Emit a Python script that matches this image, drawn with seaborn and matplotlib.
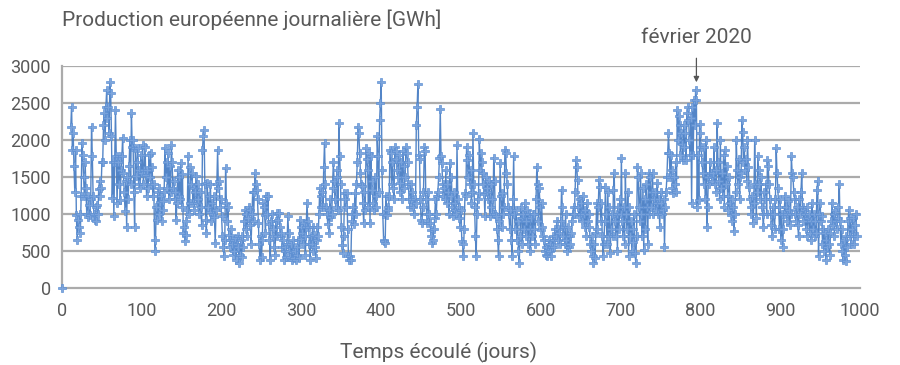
import numpy as np
import pandas as pd
import matplotlib
matplotlib.use("Agg")
import matplotlib.pyplot as plt
import seaborn as sns

# ---- data (GWh per day) ----
first_day = [0]
first_value = [0]
start_day = 11  # first day of continuous series

prod_1 = [2180, 2450, 1870, 2090, 1650, 1300, 1870, 990, 650, 920,
          830, 1000, 740, 1240, 1960, 1800, 1500, 1240, 1700, 1350,
          1000, 960, 1240, 1120, 980, 1200, 2180, 1780, 1240, 1000,
          920, 900, 1100, 1120, 1000, 1340, 1450, 1250, 1350, 1700,
          1700, 2200, 2360, 2000, 2450, 2680, 2300, 2450, 2100, 2780,
          2630, 2050, 1210, 1700, 970, 1700, 2410, 1780, 1150, 1700,
          1400, 1780, 1190, 1600, 1780, 2030, 1550, 1300, 1040, 1450,
          830, 1500, 1200, 1650, 2000, 1400, 2360, 1900, 2000, 1300,
          830, 1890, 1510, 1700, 1890, 1400, 1600, 1350, 1800, 1550]
prod_2 = [1930, 1400, 1600, 1910, 1530, 1250, 1600, 1350, 1800, 1500,
          1820, 1400, 1640, 1240, 1400, 650, 500, 1100, 920, 1300,
          1000, 1350, 1160, 1240, 900, 1180, 1050, 1300, 1890, 1500,
          1700, 1350, 1820, 1200, 1650, 1300, 1930, 1700, 1350, 1450,
          1200, 1300, 920, 1150, 1600, 1250, 1500, 1200, 1690, 1100,
          1540, 750, 830, 630, 720, 900, 1050, 1780, 1000, 1150,
          1640, 1400, 1550, 1150, 1350, 1050, 1300, 1520, 1150, 1400,
          1200, 1000, 1300, 1100, 850, 1870, 2050, 2140, 1400, 920,
          750, 1420, 1100, 1250, 1030, 1400, 900, 1150, 1000, 1250,
          960, 610, 1050, 1400, 1870, 1350, 1450, 1100, 1200, 970]
prod_3 = [700, 560, 430, 650, 1620, 1150, 900, 1100, 720, 650,
          560, 800, 600, 450, 650, 500, 680, 380, 600, 700,
          560, 340, 450, 650, 420, 700, 550, 900, 1050, 800,
          1000, 700, 950, 1100, 1060, 850, 600, 1000, 1300, 900,
          1300, 1550, 1400, 1330, 1200, 880, 600, 380, 700, 420,
          650, 1150, 1100, 980, 750, 1240, 1000, 1240, 860, 650,
          380, 900, 1000, 800, 700, 550, 450, 900, 700, 1010,
          920, 1010, 830, 700, 750, 560, 650, 380, 500, 560,
          420, 600, 970, 750, 500, 420, 600, 380, 480, 650,
          400, 500, 380, 560, 450, 650, 400, 920, 830, 660]
prod_4 = [750, 600, 880, 700, 450, 830, 1150, 900, 830, 600,
          380, 700, 600, 830, 500, 720, 560, 400, 650, 830,
          700, 1000, 1350, 1100, 1240, 1300, 1100, 1640, 1960, 1400,
          1100, 1000, 870, 1050, 740, 1200, 960, 1000, 1350, 1700,
          1450, 1200, 1100, 1500, 1600, 1050, 2230, 1780, 1400, 830,
          580, 470, 700, 1280, 1200, 1100, 1280, 800, 430, 380,
          430, 380, 900, 1000, 1100, 870, 1280, 1000, 1400, 1700,
          2180, 2090, 1820, 1550, 1400, 1380, 1150, 880, 1300, 1050,
          1890, 1740, 1600, 1100, 1820, 880, 1780, 1450, 1320, 1150,
          1050, 1500, 1250, 1100, 2050, 1780, 1300, 2270, 2500, 2790]
prod_5 = [1600, 1000, 650, 630, 610, 1250, 980, 1100, 1050, 1250,
          1870, 1820, 1400, 1700, 1350, 1200, 1900, 1850, 1750, 1600,
          1500, 1800, 1300, 1420, 1700, 1200, 1850, 1650, 1350, 1500,
          1900, 1830, 1700, 1400, 1200, 1100, 1400, 1200, 1300, 1100,
          1000, 1200, 1150, 2200, 2440, 2760, 1800, 1750, 1200, 920,
          880, 1100, 1300, 1900, 1850, 1200, 1000, 880, 1300, 1000,
          880, 780, 700, 610, 650, 800, 950, 1200, 1000, 1240,
          1300, 1500, 1760, 2420, 1780, 1690, 1400, 1240, 1350, 1200,
          1590, 1150, 1400, 1300, 1000, 1690, 1250, 1500, 1100, 970,
          1300, 1050, 1150, 1000, 1930, 1200, 1100, 950, 830, 1060]
prod_6 = [640, 590, 430, 800, 1280, 1240, 1910, 1730, 1500, 1800,
          1400, 1600, 1150, 1300, 2090, 1400, 1100, 700, 430, 1000,
          1200, 1280, 2020, 1600, 1820, 1700, 1400, 1550, 1270, 970,
          1500, 1300, 1350, 1200, 1440, 970, 1100, 1400, 1200, 1000,
          1760, 1450, 1000, 970, 800, 650, 430, 900, 1690, 1250,
          830, 1280, 1000, 1100, 1870, 1820, 1550, 1400, 1100, 1000,
          800, 1060, 650, 430, 1200, 1780, 1000, 800, 1060, 650,
          900, 500, 340, 700, 1100, 950, 600, 1000, 800, 1150,
          700, 900, 1050, 600, 1000, 800, 500, 950, 700, 1000,
          800, 1000, 600, 1200, 1640, 1400, 900, 1350, 1100, 780]
prod_7 = [1150, 830, 700, 650, 500, 560, 450, 430, 520, 650,
          500, 600, 430, 560, 700, 650, 560, 800, 700, 900,
          650, 800, 750, 600, 900, 1330, 1100, 700, 830, 600,
          1000, 650, 500, 830, 560, 700, 600, 750, 900, 1000,
          1100, 1000, 1300, 1730, 1640, 1460, 1100, 960, 1200, 1000,
          1150, 900, 1240, 1000, 830, 1060, 700, 1150, 900, 1000,
          820, 600, 500, 700, 430, 340, 600, 400, 750, 1150,
          800, 1100, 1460, 1370, 900, 1150, 700, 430, 600, 900,
          1370, 1000, 600, 1300, 700, 1100, 470, 800, 1000, 700,
          1330, 1550, 900, 700, 1000, 500, 1100, 800, 1200, 1000]
prod_8 = [1760, 900, 700, 1100, 600, 1550, 1000, 800, 1300, 430,
          1100, 700, 900, 500, 800, 620, 1000, 470, 340, 700,
          1640, 1500, 1100, 900, 1550, 1000, 700, 1350, 520, 1200,
          800, 1400, 1100, 600, 1550, 1000, 1500, 1100, 1300, 1550,
          1000, 1200, 1300, 1050, 1150, 1420, 1000, 1200, 830, 1150,
          1300, 1000, 1050, 1200, 560, 1100, 1300, 1500, 1820, 2090,
          1820, 1500, 1800, 1600, 1350, 1280, 1500, 1400, 1700, 1300,
          2400, 2000, 2320, 2200, 1800, 2090, 1950, 1730, 2200, 1900,
          2090, 1730, 2360, 2270, 2450, 2000, 1800, 2300, 1150, 2450,
          1800, 2540, 2200, 2680, 2540, 1100, 1800, 1190, 2220, 2100]
prod_9 = [1900, 1700, 1550, 1400, 1900, 1200, 2000, 830, 1100, 1500,
          1400, 1700, 1550, 1500, 1450, 1550, 1900, 1400, 1600, 1300,
          2230, 1700, 1450, 1200, 2000, 1350, 1550, 1250, 1800, 1100,
          1870, 1400, 1650, 1250, 1050, 1500, 1150, 980, 1200, 900,
          1100, 765, 1000, 1300, 2000, 1600, 1400, 1750, 1200, 1500,
          1550, 2270, 2110, 1700, 1900, 1600, 1750, 1450, 2000, 1640,
          1370, 1200, 1100, 1000, 1250, 880, 1150, 2000, 1400, 950,
          1300, 1780, 1600, 1400, 1200, 1500, 1100, 1000, 830, 1300,
          1200, 1400, 1000, 1730, 1650, 1400, 1200, 1000, 850, 700,
          1100, 1000, 800, 1200, 1890, 1550, 1350, 1100, 800, 1200]
prod_10 = [650, 1000, 560, 800, 1000, 1250, 1100, 1000, 900, 1180,
           1050, 850, 1000, 1780, 1550, 1500, 1300, 1200, 1000, 900,
           1100, 850, 700, 1200, 1000, 1300, 1550, 1100, 900, 1050,
           1000, 800, 1100, 700, 950, 1000, 750, 900, 650, 1150,
           800, 1000, 700, 900, 750, 1330, 1440, 430, 1000, 1150,
           900, 970, 600, 800, 500, 750, 380, 650, 550, 800,
           600, 450, 750, 900, 1150, 850, 1000, 700, 1050, 900,
           800, 950, 1100, 1410, 900, 600, 800, 500, 380, 650,
           450, 360, 700, 550, 900, 1060, 700, 950, 600, 800,
           950, 700, 600, 850, 1000, 700]

x_ticks = [0, 100, 200, 300, 400, 500, 600, 700, 800, 900, 1000]
y_ticks = [0, 500, 1000, 1500, 2000, 2500, 3000]
title_text = "Production européenne journalière [GWh]"
x_label = "Temps écoulé (jours)"
annot_text = "février 2020"
annot_day = 794
annot_value = 2680

# ---- build table ----
series = prod_1 + prod_2 + prod_3 + prod_4 + prod_5 + prod_6 + prod_7 + prod_8 + prod_9 + prod_10
days = list(first_day) + list(range(start_day, start_day + len(series)))
vals = list(first_value) + series
segment = [0] * len(first_day) + [1] * len(series)
df = pd.DataFrame({"jour": days, "gwh": vals, "segment": segment})

sns.set_theme(style="white")
plt.rcParams["font.family"] = ["Roboto", "DejaVu Sans"]
grey_text = "#595959"
grid_col = "#ababab"
line_col = "#4a7fc4"

fig = plt.figure(figsize=(9, 3.65), dpi=100)
ax = fig.add_axes([62 / 900, 1 - 288 / 365, (860 - 62) / 900, (288 - 66) / 365])

sns.lineplot(data=df, x="jour", y="gwh", units="segment", estimator=None,
             color=line_col, linewidth=1.0, marker="P", markersize=5.3,
             markerfacecolor="#7aa3dc", markeredgecolor="#5b8ed2",
             markeredgewidth=0.5, alpha=0.95, ax=ax, clip_on=False, zorder=3)

ax.set_xlim(0, 1000)
ax.set_ylim(0, 3000)
ax.set_xticks(x_ticks)
ax.set_yticks(y_ticks)
ax.set_xticklabels([str(t) for t in x_ticks])
ax.set_yticklabels([str(t) for t in y_ticks])
ax.set_xlabel("")
ax.set_ylabel("")

for v in y_ticks[1:]:
    ax.axhline(v, color=grid_col, lw=1.6, zorder=1)

for s in ["top", "right"]:
    ax.spines[s].set_visible(False)
for s in ["left", "bottom"]:
    ax.spines[s].set_color(grid_col)
    ax.spines[s].set_linewidth(1.6)

ax.tick_params(axis="both", colors=grid_col, labelcolor=grey_text,
               labelsize=13, length=6, width=1.2, direction="out")
ax.tick_params(axis="x", pad=4)
ax.tick_params(axis="y", pad=2)

fig.text(62 / 900, 1 - 20 / 365, title_text, ha="left", va="center",
         fontsize=15, color=grey_text)
fig.text(439 / 900, 1 - 352 / 365, x_label, ha="center", va="center",
         fontsize=15, color=grey_text)

ax.annotate(annot_text, xy=(annot_day + 1, annot_value + 100),
            xytext=(annot_day + 1, 3390), ha="center", va="center",
            fontsize=15, color=grey_text, annotation_clip=False,
            arrowprops=dict(arrowstyle="-|>", color="#555555", lw=0.9,
                            mutation_scale=8, shrinkA=6, shrinkB=0))

fig.savefig("out.png", dpi=100)
